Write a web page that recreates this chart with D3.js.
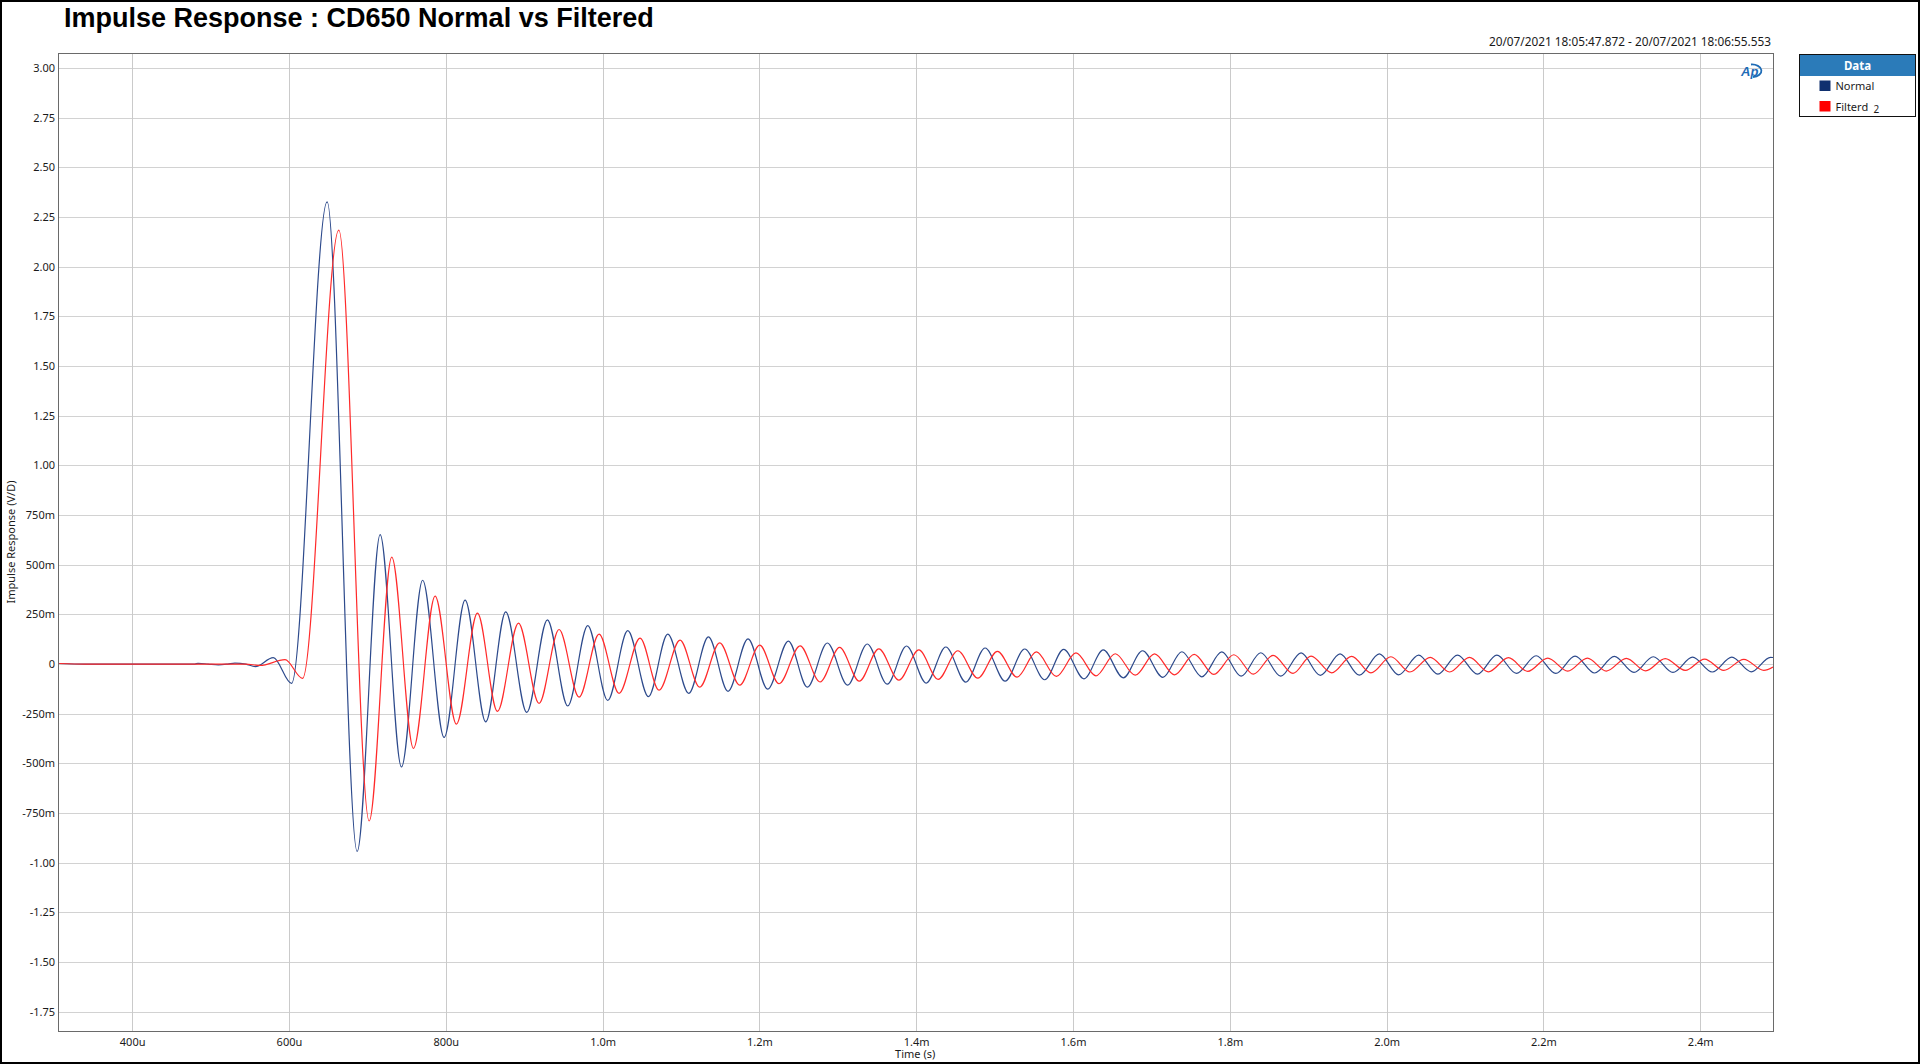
<!DOCTYPE html>
<html>
<head>
<meta charset="utf-8">
<script src="https://cdn.jsdelivr.net/npm/d3@7"></script>
<style>
  body { margin: 0; background: #fff; }
  svg { display: block; }
</style>
</head>
<body>
<svg id="chart"></svg>
<script>
// data (time in microseconds, response in V/D)
// peaks and troughs of each trace, joined by a smooth monotone curve
var normalTime = [307, 340, 480, 484, 497, 510, 522, 531, 545, 557, 580, 603.3, 648.7, 687.0, 716.3, 743.5, 770.5, 797.9, 824.7, 851.0,
  876.5, 903.3, 929.6, 955.6, 981.1, 1006.6, 1032.1, 1058.5, 1083.1, 1109.9, 1135.0, 1160.0, 1185.5, 1210.6, 1237.0, 1261.2,
  1286.7, 1312.5, 1337.6, 1363.0, 1387.7, 1412.7, 1437.8, 1463.3, 1487.9, 1513.4, 1538.4, 1563.9, 1588.1, 1614.0, 1638.6,
  1664.1, 1688.7, 1714.6, 1738.9, 1764.3, 1789.8, 1814.4, 1839.5, 1865.0, 1890.9, 1915.5, 1940.6, 1965.2, 1990.7, 2015.3,
  2040.8, 2065.4, 2090.4, 2115.9, 2140.6, 2165.6, 2190.7, 2215.7, 2240.3, 2265.4, 2290.4, 2315.5, 2340.1, 2365.2, 2390.2,
  2415.3, 2440.3, 2465.0, 2489.6, 2492.8];
var normalValue = [0.003, 0, 0, 0.004, 0, -0.004, 0, 0.005, 0, -0.013, 0.032, -0.097, 2.327, -0.943, 0.652, -0.518, 0.422, -0.369, 0.322, -0.291,
  0.263, -0.243, 0.223, -0.211, 0.194, -0.183, 0.168, -0.164, 0.151, -0.147, 0.137, -0.137, 0.127, -0.126, 0.116, -0.116,
  0.106, -0.106, 0.101, -0.101, 0.091, -0.096, 0.086, -0.091, 0.081, -0.086, 0.076, -0.079, 0.074, -0.074, 0.071,
  -0.069, 0.067, -0.067, 0.062, -0.064, 0.061, -0.061, 0.057, -0.061, 0.056, -0.057, 0.051, -0.056, 0.051, -0.054,
  0.045, -0.051, 0.045, -0.051, 0.045, -0.047, 0.042, -0.047, 0.040, -0.045, 0.039, -0.042, 0.037, -0.042, 0.035,
  -0.040, 0.035, -0.039, 0.034, 0.033];

var filteredTime = [307, 340, 545, 563, 595, 617.3, 663.6, 702.3, 731.1, 758.8, 786.4, 813.6, 840.4, 865.9, 892.7, 919.0, 944.5,
  970.0, 995.5, 1021.0, 1047.8, 1072.0, 1098.8, 1123.9, 1149.4, 1174.9, 1200.4, 1225.1, 1251.9, 1277.4, 1302.3, 1327.4,
  1352.4, 1377.9, 1403.4, 1428.0, 1453.1, 1478.6, 1503.6, 1528.7, 1553.3, 1578.8, 1603.8, 1629.3, 1653.9, 1679.4, 1704.0,
  1729.5, 1754.6, 1779.6, 1805.1, 1830.1, 1855.2, 1880.6, 1903.6, 1929.9, 1955.4, 1980.0, 2005.5, 2029.7, 2055.6, 2080.3,
  2105.7, 2129.9, 2155.4, 2180.0, 2205.5, 2231.0, 2256.1, 2280.3, 2305.7, 2330.4, 2355.4, 2380.9, 2405.5, 2430.1, 2455.6,
  2481.1, 2492.8];
var filteredValue = [0.003, 0, 0, -0.007, 0.022, -0.072, 2.184, -0.790, 0.538, -0.424, 0.342, -0.302, 0.256, -0.238, 0.206, -0.198, 0.174,
  -0.166, 0.151, -0.147, 0.131, -0.131, 0.121, -0.116, 0.107, -0.106, 0.095, -0.099, 0.092, -0.090, 0.084, -0.086,
  0.077, -0.081, 0.071, -0.077, 0.067, -0.071, 0.064, -0.066, 0.061, -0.062, 0.056, -0.059, 0.052, -0.056, 0.051,
  -0.054, 0.049, -0.052, 0.047, -0.051, 0.044, -0.047, 0.040, -0.044, 0.039, -0.044, 0.037, -0.040, 0.034, -0.040,
  0.034, -0.039, 0.032, -0.037, 0.030, -0.035, 0.030, -0.035, 0.029, -0.034, 0.027, -0.032, 0.025, -0.032, 0.024,
  -0.032, -0.015];

var xTickValues = [400, 600, 800, 1000, 1200, 1400, 1600, 1800, 2000, 2200, 2400];
var xTickLabels = ["400u", "600u", "800u", "1.0m", "1.2m", "1.4m", "1.6m", "1.8m", "2.0m", "2.2m", "2.4m"];
var yTickValues = [3, 2.75, 2.5, 2.25, 2, 1.75, 1.5, 1.25, 1, 0.75, 0.5, 0.25, 0, -0.25, -0.5, -0.75, -1, -1.25, -1.5, -1.75];
var yTickLabels = ["3.00", "2.75", "2.50", "2.25", "2.00", "1.75", "1.50", "1.25", "1.00", "750m", "500m", "250m", "0",
  "-250m", "-500m", "-750m", "-1.00", "-1.25", "-1.50", "-1.75"];

var seriesNames = ["Normal", "Filterd"];
var seriesColours = ["#2d4a8c", "#ff2a2a"];
var legendColours = ["#10306f", "#ff0000"];

// canvas / plot area
var W = 1920, H = 1064;
var margin = {top: 53, right: 147, bottom: 33, left: 59},
    width = W - margin.left - margin.right,
    height = H - margin.top - margin.bottom;

var svg = d3.select("#chart")
    .attr("width", W)
    .attr("height", H)
    .style("font-family", "'Noto Sans', 'Open Sans', sans-serif");

var x = d3.scaleLinear().domain([306.7, 2492.8]).range([0, width]);
var y = d3.scaleLinear().domain([-1.847, 3.076]).range([height, 0]);

var g = svg.append("g")
    .attr("transform", "translate(" + margin.left + "," + margin.top + ")");

// gridlines
g.selectAll(".hgrid")
    .data(yTickValues)
    .enter().append("line")
    .attr("x1", 0).attr("x2", width)
    .attr("y1", function(d) { return Math.round(y(d)) + 0.5; })
    .attr("y2", function(d) { return Math.round(y(d)) + 0.5; })
    .attr("stroke", "#d2d2d2");

g.selectAll(".vgrid")
    .data(xTickValues)
    .enter().append("line")
    .attr("y1", 0).attr("y2", height)
    .attr("x1", function(d) { return Math.round(x(d)) + 0.5; })
    .attr("x2", function(d) { return Math.round(x(d)) + 0.5; })
    .attr("stroke", "#cacaca");

// traces
svg.append("clipPath").attr("id", "plotclip")
    .append("rect").attr("width", width).attr("height", height);

var line = d3.line()
    .x(function(d) { return x(d[0]); })
    .y(function(d) { return y(d[1]); })
    .curve(d3.curveMonotoneX);

var traces = [d3.zip(normalTime, normalValue), d3.zip(filteredTime, filteredValue)];

g.append("g").attr("clip-path", "url(#plotclip)")
    .selectAll("path")
    .data(traces)
    .enter().append("path")
    .attr("d", line)
    .attr("fill", "none")
    .attr("stroke", function(d, i) { return seriesColours[i]; })
    .attr("stroke-width", 1.2);

// plot frame
g.append("rect")
    .attr("x", -0.5).attr("y", 0.5)
    .attr("width", width + 1).attr("height", height)
    .attr("fill", "none")
    .attr("stroke", "#6a6a6a");

// axes
var yAxis = g.append("g")
    .call(d3.axisLeft(y).tickValues(yTickValues)
      .tickFormat(function(d, i) { return yTickLabels[i]; })
      .tickSize(0).tickPadding(4));
yAxis.select(".domain").remove();
yAxis.selectAll("text").style("font-size", "11px").attr("fill", "#1a1a1a")
    .style("font-family", "'Noto Sans', sans-serif");

var xAxis = g.append("g")
    .attr("transform", "translate(0," + height + ")")
    .call(d3.axisBottom(x).tickValues(xTickValues)
      .tickFormat(function(d, i) { return xTickLabels[i]; })
      .tickSize(0).tickPadding(7));
xAxis.select(".domain").remove();
xAxis.selectAll("text").style("font-size", "11px").attr("fill", "#1a1a1a")
    .style("font-family", "'Noto Sans', sans-serif");

// axis titles
svg.append("text")
    .attr("x", margin.left + x(1400) - 1)
    .attr("y", 1058)
    .attr("text-anchor", "middle")
    .style("font-size", "11px")
    .attr("fill", "#1a1a1a")
    .text("Time (s)");

svg.append("text")
    .attr("transform", "translate(15,542) rotate(-90)")
    .attr("text-anchor", "middle")
    .style("font-size", "11px")
    .attr("fill", "#1a1a1a")
    .text("Impulse Response (V/D)");

// title + timestamp
svg.append("text")
    .attr("x", 64)
    .attr("y", 27)
    .style("font-family", "'Liberation Sans', Arial, sans-serif")
    .style("font-size", "27px")
    .style("font-weight", "bold")
    .attr("fill", "#000")
    .text("Impulse Response : CD650 Normal vs Filtered");

svg.append("text")
    .attr("x", 1771)
    .attr("y", 46)
    .attr("text-anchor", "end")
    .style("font-size", "11.8px")
    .attr("fill", "#1a1a1a")
    .text("20/07/2021 18:05:47.872 - 20/07/2021 18:06:55.553");

// AP logo
var logo = svg.append("g").attr("fill", "#1f6cb6");
logo.append("text")
    .attr("x", 1741).attr("y", 75.5)
    .style("font-family", "'Liberation Sans', Arial, sans-serif")
    .style("font-size", "13px")
    .style("font-weight", "bold")
    .style("font-style", "italic")
    .text("Ap");
logo.append("path")
    .attr("d", "M1751,64.5 A9,6 0 0 1 1753,77")
    .attr("fill", "none")
    .attr("stroke", "#1f6cb6")
    .attr("stroke-width", 1.8);

// legend
var lg = svg.append("g").attr("transform", "translate(1799.5,54.5)");
lg.append("rect").attr("width", 116).attr("height", 62)
    .attr("fill", "#fff").attr("stroke", "#111");
lg.append("rect").attr("x", 0.5).attr("y", 0.5).attr("width", 115).attr("height", 21)
    .attr("fill", "#2b7bb9");
lg.append("text")
    .attr("x", 58).attr("y", 15)
    .attr("text-anchor", "middle")
    .style("font-size", "11.5px")
    .style("font-weight", "bold")
    .attr("fill", "#fff")
    .text("Data");

var items = lg.selectAll(".item")
    .data(seriesNames)
    .enter().append("g")
    .attr("transform", function(d, i) { return "translate(0," + (26 + i * 20.5) + ")"; });
items.append("rect")
    .attr("x", 20).attr("y", 0)
    .attr("width", 11).attr("height", 10.5)
    .attr("fill", function(d, i) { return legendColours[i]; });
items.append("text")
    .attr("x", 36).attr("y", 9.5)
    .style("font-size", "11px")
    .attr("fill", "#1a1a1a")
    .text(function(d) { return d; });
lg.append("text")
    .attr("x", 74).attr("y", 58)
    .style("font-size", "10px")
    .attr("fill", "#1a1a1a")
    .text("2");

// outer border
svg.append("rect")
    .attr("x", 1).attr("y", 1)
    .attr("width", W - 2).attr("height", H - 2)
    .attr("fill", "none")
    .attr("stroke", "#000")
    .attr("stroke-width", 2);
</script>
</body>
</html>
